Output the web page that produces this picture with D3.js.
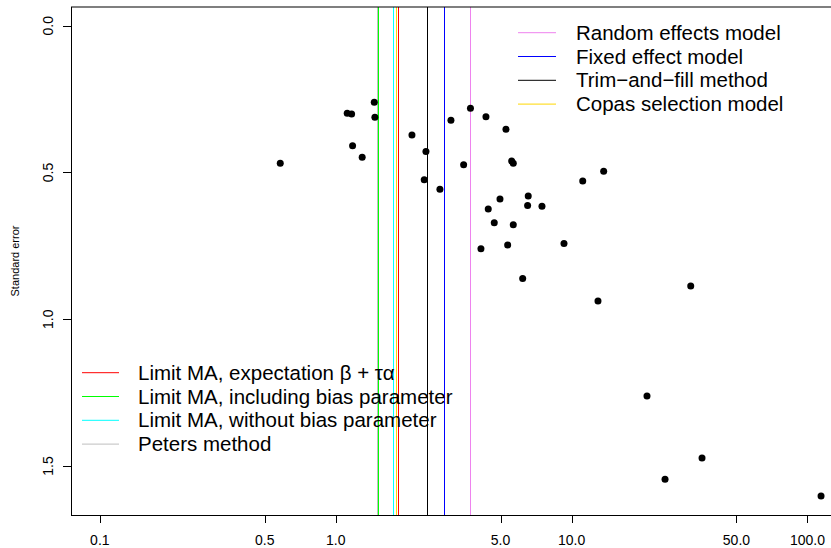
<!DOCTYPE html>
<html>
<head>
<meta charset="utf-8">
<script src="https://cdn.jsdelivr.net/npm/d3@7"></script>
<style>
    body { margin: 0; background: white; }
    text { font-family: "Liberation Sans", Arial, sans-serif; fill: black; }
</style>
</head>
<body>
<script>
'use strict';

// study estimates (odds ratio scale) and their standard errors
const effects = [0.582, 1.119, 1.168, 1.457, 1.466, 1.179, 1.295, 2.105, 2.413, 2.373,
    2.766, 3.080, 3.486, 3.726, 4.335, 5.27, 5.57, 5.66, 11.15, 13.68,
    4.971, 6.55, 6.51, 7.49, 4.433, 4.701, 5.66, 4.128, 5.358, 9.286,
    6.204, 32.0, 12.94, 20.88, 24.9, 35.73, 114.2]
const stdErrors = [0.469, 0.2985, 0.301, 0.261, 0.312, 0.409, 0.448, 0.372, 0.429, 0.525,
    0.557, 0.322, 0.474, 0.281, 0.310, 0.353, 0.461, 0.469, 0.529, 0.496,
    0.5905, 0.580, 0.613, 0.615, 0.6245, 0.671, 0.678, 0.760, 0.747, 0.742,
    0.861, 0.887, 0.938, 1.262, 1.545, 1.473, 1.602]

// pooled estimates drawn as vertical lines
const methodNames = ["Random effects model", "Fixed effect model", "Trim\u2212and\u2212fill method", "Copas selection model",
    "Limit MA, expectation \u03B2 + \u03C4\u03B1", "Limit MA, including bias parameter", "Limit MA, without bias parameter", "Peters method"]
const methodEstimates = [3.719, 2.877, 2.443, 1.809, 1.836, 1.514, 1.753, 1.500]
const methodColors = ["#EE82EE", "#0000FF", "#000000", "#FFD700", "#FF0000", "#00FF00", "#00FFFF", "#BEBEBE"]

const xTicks = [0.1, 0.5, 1, 5, 10, 50, 100]
const xTickLabels = ["0.1", "0.5", "1.0", "5.0", "10.0", "50.0", "100.0"]
const yTicks = [0, 0.5, 1, 1.5]
const yTickLabels = ["0.0", "0.5", "1.0", "1.5"]

const box = { left: 71, right: 840, top: 7, bottom: 515 }

window.onload = function() {
    let svg = d3.select("body").append("svg")
        .attr("width", 831)
        .attr("height", 548)

    let x = d3.scaleLog()
        .domain([0.07547, 137.4])
        .range([box.left, box.right])

    let y = d3.scaleLinear()
        .domain([-0.0647, 1.667])
        .range([6.7, box.bottom])

    let px = v => Math.round(x(v)) + 0.5

    // reference lines for each method
    svg.append("g")
        .selectAll("line")
        .data(methodEstimates)
        .enter()
        .append("line")
        .attr("x1", d => px(d))
        .attr("x2", d => px(d))
        .attr("y1", box.top)
        .attr("y2", box.bottom)
        .attr("stroke", (d, i) => methodColors[i])
        .attr("stroke-width", 1)

    svg.append("g")
        .selectAll("circle")
        .data(effects)
        .enter()
        .append("circle")
        .attr("cx", d => x(d))
        .attr("cy", (d, i) => y(stdErrors[i]))
        .attr("r", 3.5)
        .attr("fill", "black")

    // frame
    svg.append("rect")
        .attr("x", box.left + 0.5)
        .attr("y", box.top)
        .attr("width", box.right - box.left)
        .attr("height", box.bottom + 0.5 - box.top)
        .attr("fill", "none")
        .attr("stroke", "black")

    // x axis
    let xAxis = svg.append("g").attr("id", "x-axis")
    xAxis.selectAll("line")
        .data(xTicks)
        .enter()
        .append("line")
        .attr("x1", d => px(d))
        .attr("x2", d => px(d))
        .attr("y1", box.bottom)
        .attr("y2", box.bottom + 8)
        .attr("stroke", "black")
    xAxis.selectAll("text")
        .data(xTicks)
        .enter()
        .append("text")
        .attr("x", d => x(d))
        .attr("y", 545)
        .attr("text-anchor", "middle")
        .attr("font-size", "14px")
        .text((d, i) => xTickLabels[i])

    // y axis
    let yAxis = svg.append("g").attr("id", "y-axis")
    yAxis.selectAll("line")
        .data(yTicks)
        .enter()
        .append("line")
        .attr("x1", box.left - 8)
        .attr("x2", box.left)
        .attr("y1", d => Math.round(y(d)) + 0.5)
        .attr("y2", d => Math.round(y(d)) + 0.5)
        .attr("stroke", "black")
    yAxis.selectAll("text")
        .data(yTicks)
        .enter()
        .append("text")
        .attr("transform", d => "translate(53," + y(d) + ") rotate(-90)")
        .attr("text-anchor", "middle")
        .attr("font-size", "14px")
        .text((d, i) => yTickLabels[i])

    svg.append("text")
        .attr("transform", "translate(19," + ((box.top + box.bottom) / 2) + ") rotate(-90)")
        .attr("text-anchor", "middle")
        .attr("font-size", "11px")
        .text("Standard error")

    // legends: first four methods top right, last four bottom left
    drawLegend(svg, [0, 1, 2, 3], 518, 556, 576, 32.7)
    drawLegend(svg, [4, 5, 6, 7], 82, 119, 138, 372.7)
}

function drawLegend(svg, idx, lx1, lx2, tx, y0) {
    let step = 23.8
    let g = svg.append("g").attr("class", "legend")
    g.selectAll("line")
        .data(idx)
        .enter()
        .append("line")
        .attr("x1", lx1)
        .attr("x2", lx2)
        .attr("y1", (d, i) => y0 + i * step)
        .attr("y2", (d, i) => y0 + i * step)
        .attr("stroke", d => methodColors[d])
    g.selectAll("text")
        .data(idx)
        .enter()
        .append("text")
        .attr("x", tx)
        .attr("y", (d, i) => y0 + i * step)
        .attr("dy", "0.35em")
        .attr("font-size", "20.5px")
        .text(d => methodNames[d])
}
</script>
</body>
</html>
